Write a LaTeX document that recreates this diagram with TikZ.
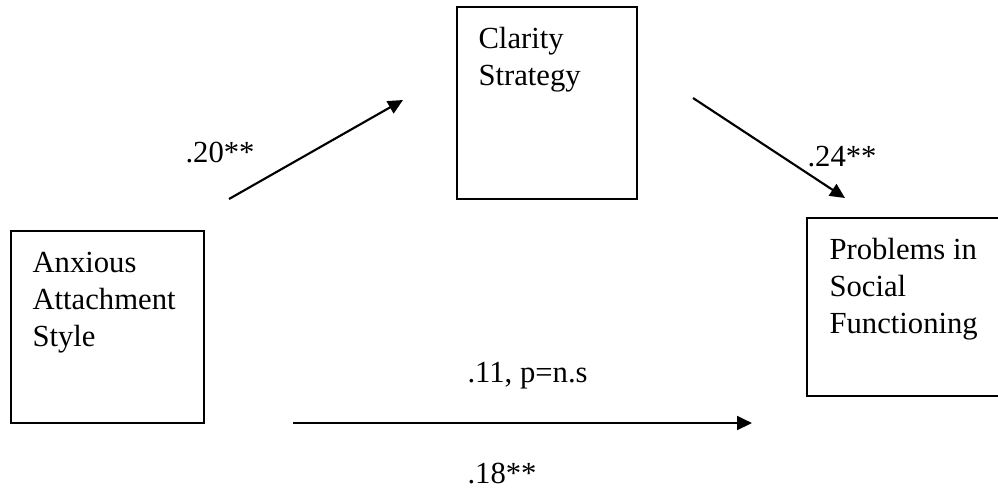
\documentclass[tikz,border=0pt]{standalone}
\usepackage{fontspec}
\setmainfont{Liberation Serif}
\usepackage{tikz}
\usetikzlibrary{positioning,arrows.meta,calc}

\tikzset{
  varbox/.style={draw=black, line width=0.6pt, anchor=north west, inner sep=0pt, outer sep=0pt},
  boxtext/.style={anchor=north west, inner sep=0pt, align=left,
    font=\fontsize{11.5}{13.9}\selectfont},
  coeflabel/.style={anchor=base west, inner sep=0pt, font=\fontsize{11.5}{13.9}\selectfont},
  patharrow/.style={line width=0.8pt, -{Triangle[length=5.6pt, width=5.2pt]}}
}

\begin{document}
\begin{tikzpicture}[x=0.375pt, y=-0.375pt]
  \useasboundingbox (0,0) rectangle (998,499);

  % variable boxes
  \node[varbox, minimum width=72.4pt, minimum height=72pt] (anxious) at (11,231) {};
  \node[varbox, minimum width=67.5pt, minimum height=72pt] (clarity) at (457,7) {};
  \node[varbox, minimum width=73pt, minimum height=66.8pt] (problems) at (807,218) {};

  \node[boxtext] (anxioustext) at ($(anxious.north west)+(21,15)$) {\strut Anxious\\Attachment\\Style};
  \node[boxtext] (claritytext) at ($(clarity.north west)+(21,15)$) {\strut Clarity\\Strategy};
  \node[boxtext] (problemstext) at ($(problems.north west)+(22,15)$) {\strut Problems in\\Social\\Functioning};

  % path ends
  \coordinate (aStart) at (229,199);
  \coordinate (aEnd) at (403,100);
  \coordinate (bStart) at (693,98);
  \coordinate (bEnd) at (845,198);
  \coordinate (cStart) at (293,423);
  \coordinate (cEnd) at (752,423);

  \draw[patharrow] (aStart) -- (aEnd);
  \draw[patharrow] (bStart) -- (bEnd);
  \draw[patharrow] (cStart) -- (cEnd);

  % coefficients
  \node[coeflabel] (coefA) at (185,162) {.20**};
  \node[coeflabel] (coefB) at (807,166) {.24**};
  \node[coeflabel] (coefDirect) at (467,382) {.11, p=n.s};
  \node[coeflabel] (coefTotal) at (467,483) {.18**};
\end{tikzpicture}
\end{document}
